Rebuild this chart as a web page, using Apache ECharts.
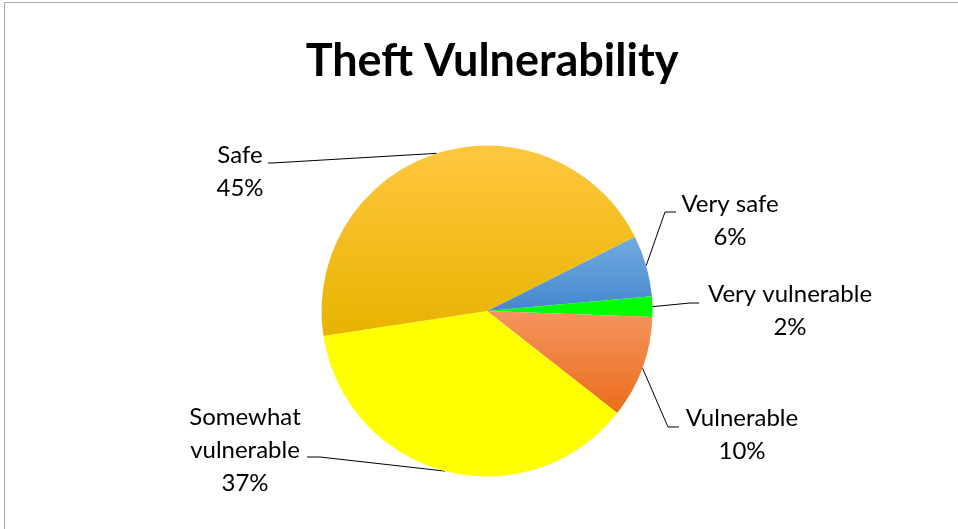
<!DOCTYPE html>
<html>
<head>
<meta charset="utf-8">
<title>Theft Vulnerability</title>
<script src="https://cdn.jsdelivr.net/npm/echarts@6/dist/echarts.min.js"></script>
<style>
  html, body { margin: 0; padding: 0; background: #ffffff; }
  #chart { width: 958px; height: 529px; }
</style>
</head>
<body>
<div id="chart"></div>
<script>
// Slices in clockwise drawing order, starting just above the right-hand horizontal
const categories = ['Very safe', 'Very vulnerable', 'Vulnerable', 'Somewhat vulnerable', 'Safe'];
const shares = [6, 2, 10, 37, 45];

// Fill colours per slice: [top, bottom] of a vertical gradient
const sliceColors = [
  ['#72AADF', '#4587CE'],
  ['#00FF00', '#00FF00'],
  ['#F4945E', '#EA6D1C'],
  ['#FFFF00', '#FFFF00'],
  ['#FFC73F', '#E8B300']
];

// Where each label block sits (centre) and the bend/end of its leader line
const labelSpots = {
  'Very safe':           { cx: 730, cy: 221, bend: [665, 212], end: [676, 212] },
  'Very vulnerable':     { cx: 790, cy: 311, bend: [690, 303], end: [699, 303] },
  'Vulnerable':          { cx: 742, cy: 435, bend: [668, 427], end: [679, 427] },
  'Somewhat vulnerable': { cx: 245, cy: 450, bend: [320, 457], end: [307, 457] },
  'Safe':                { cx: 240, cy: 172, bend: [272, 163], end: [268, 163] }
};

const chart = echarts.init(document.getElementById('chart'), null, { renderer: 'canvas' });

const data = categories.map((name, i) => ({
  name: name,
  value: shares[i],
  itemStyle: {
    color: new echarts.graphic.LinearGradient(0, 0, 0, 1, [
      { offset: 0, color: sliceColors[i][0] },
      { offset: 1, color: sliceColors[i][1] }
    ])
  }
}));

const option = {
  backgroundColor: '#ffffff',
  animation: false,
  title: {
    text: 'Theft Vulnerability',
    left: 487,
    textAlign: 'center',
    top: 34,
    textStyle: {
      fontFamily: 'Lato',
      fontWeight: 'bold',
      fontSize: 45,
      color: '#000000'
    }
  },
  graphic: [{
    type: 'rect',
    shape: { x: 4.5, y: 2.5, width: 1200, height: 800 },
    style: { fill: 'none', stroke: '#A9A9A9', lineWidth: 1 },
    silent: true
  }],
  series: [{
    type: 'pie',
    center: [487, 311],
    radius: 165.5,
    startAngle: 26.7,
    clockwise: true,
    avoidLabelOverlap: false,
    data: data,
    itemStyle: { borderWidth: 0 },
    label: {
      show: true,
      position: 'outside',
      fontFamily: 'Lato',
      fontSize: 24,
      lineHeight: 33,
      color: '#000000',
      align: 'center',
      formatter: function (p) {
        const name = p.name === 'Somewhat vulnerable' ? 'Somewhat\nvulnerable' : p.name;
        return name + '\n' + p.value + '%';
      }
    },
    labelLine: {
      show: true,
      length: 10,
      length2: 10,
      smooth: false,
      lineStyle: { color: '#000000', width: 1 }
    },
    emphasis: { disabled: true },
    labelLayout: function (params) {
      const spot = labelSpots[categories[params.dataIndex]];
      const start = params.labelLinePoints ? params.labelLinePoints[0] : spot.bend;
      return {
        x: spot.cx,
        y: spot.cy,
        align: 'center',
        verticalAlign: 'middle',
        labelLinePoints: [start, spot.bend, spot.end]
      };
    }
  }]
};

chart.setOption(option);
</script>
</body>
</html>
